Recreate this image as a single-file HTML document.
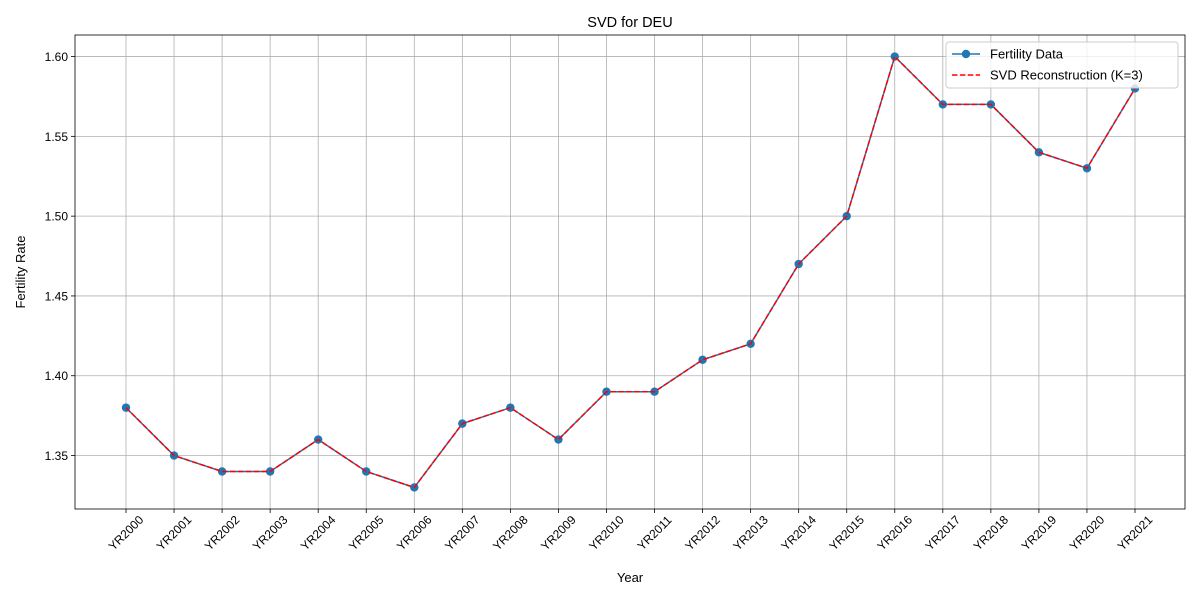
<!DOCTYPE html>
<html><head><meta charset="utf-8"><style>
body{margin:0;background:#fff;}
svg{display:block;font-family:"Liberation Sans","DejaVu Sans",sans-serif;}
</style></head><body>
<svg id="c" width="1200" height="600" viewBox="0 0 1200 600" xmlns="http://www.w3.org/2000/svg"></svg>
<script>
const categories=["YR2000","YR2001","YR2002","YR2003","YR2004","YR2005","YR2006","YR2007","YR2008","YR2009","YR2010","YR2011","YR2012","YR2013","YR2014","YR2015","YR2016","YR2017","YR2018","YR2019","YR2020","YR2021"];
const fertility=[1.38,1.35,1.34,1.34,1.36,1.34,1.33,1.37,1.38,1.36,1.39,1.39,1.41,1.42,1.47,1.50,1.60,1.57,1.57,1.54,1.53,1.58];
const reconstruction=[1.38,1.35,1.34,1.34,1.36,1.34,1.33,1.37,1.38,1.36,1.39,1.39,1.41,1.42,1.47,1.50,1.60,1.57,1.57,1.54,1.53,1.58];
const yTicks=[1.35,1.40,1.45,1.50,1.55,1.60];

const svg=document.getElementById('c');
const NS="http://www.w3.org/2000/svg";
const L=75,R=1185,T=35,B=509;
const x0=126,x1=1135;
const xs=i=>x0+(x1-x0)*i/(categories.length-1);
const ymin=1.3165,ymax=1.6135;
const ys=v=>B-(v-ymin)/(ymax-ymin)*(B-T);
function mk(t,a,p){const e=document.createElementNS(NS,t);for(const k in a)e.setAttribute(k,a[k]);(p||svg).appendChild(e);return e;}

const grid=mk('g',{});


categories.forEach((c,i)=>{const x=xs(i);
 mk('line',{x1:x,x2:x,y1:T,y2:B,stroke:'#b0b0b0','stroke-width':0.8},grid);
 mk('line',{x1:x,x2:x,y1:B,y2:B+4,stroke:'#000','stroke-width':0.8});
 const t=mk('text',{x:0,y:0,'font-size':12,'text-anchor':'middle','dominant-baseline':'central',transform:`translate(${x},${B+24}) rotate(-45)`});
 t.textContent=c;
 
 
});
yTicks.forEach(v=>{const y=ys(v);
 mk('line',{x1:L,x2:R,y1:y,y2:y,stroke:'#b0b0b0','stroke-width':0.8},grid);
 mk('line',{x1:L-4,x2:L,y1:y,y2:y,stroke:'#000','stroke-width':0.8});
 const t=mk('text',{x:L-7,y:y+4.5,'font-size':12,'text-anchor':'end'});
 t.textContent=v.toFixed(2);
 
 
});
const fr=mk('rect',{x:L,y:T,width:R-L,height:B-T,fill:'none',stroke:'#000','stroke-width':0.8});



const pts=fertility.map((v,i)=>xs(i)+','+ys(v)).join(' ');
const l1=mk('polyline',{points:pts,fill:'none',stroke:'#1f77b4','stroke-width':1.5});


fertility.forEach((v,i)=>{const c=mk('circle',{cx:xs(i),cy:ys(v),r:4.2,fill:'#1f77b4'});
 
 });
const pts2=reconstruction.map((v,i)=>xs(i)+','+ys(v)).join(' ');
const l2=mk('polyline',{points:pts2,fill:'none',stroke:'#ff0000','stroke-width':1.5,'stroke-dasharray':'5.5,2.4'});



const title=mk('text',{x:(L+R)/2,y:27,'font-size':14.5,'text-anchor':'middle'});title.textContent='SVD for DEU';


const xl=mk('text',{x:(L+R)/2,y:582,'font-size':13,'text-anchor':'middle'});xl.textContent='Year';


const yl=mk('text',{x:0,y:0,'font-size':13,'text-anchor':'middle',transform:`translate(25,${(T+B)/2}) rotate(-90)`});yl.textContent='Fertility Rate';



const lg=mk('g',{});


mk('rect',{x:946,y:42,width:232,height:46,rx:3,fill:'#fff','fill-opacity':0.8,stroke:'#ccc'},lg);
mk('line',{x1:952,x2:980,y1:54,y2:54,stroke:'#1f77b4','stroke-width':1.5},lg);
mk('circle',{cx:966,cy:54,r:4.2,fill:'#1f77b4'},lg);
const e1=mk('text',{x:990,y:58.5,'font-size':13},lg);e1.textContent='Fertility Data';


mk('line',{x1:952,x2:980,y1:75,y2:75,stroke:'#ff0000','stroke-width':1.5,'stroke-dasharray':'5.5,2.4'},lg);
const e2=mk('text',{x:990,y:79.5,'font-size':13},lg);e2.textContent='SVD Reconstruction (K=3)';


</script>
</body></html>
